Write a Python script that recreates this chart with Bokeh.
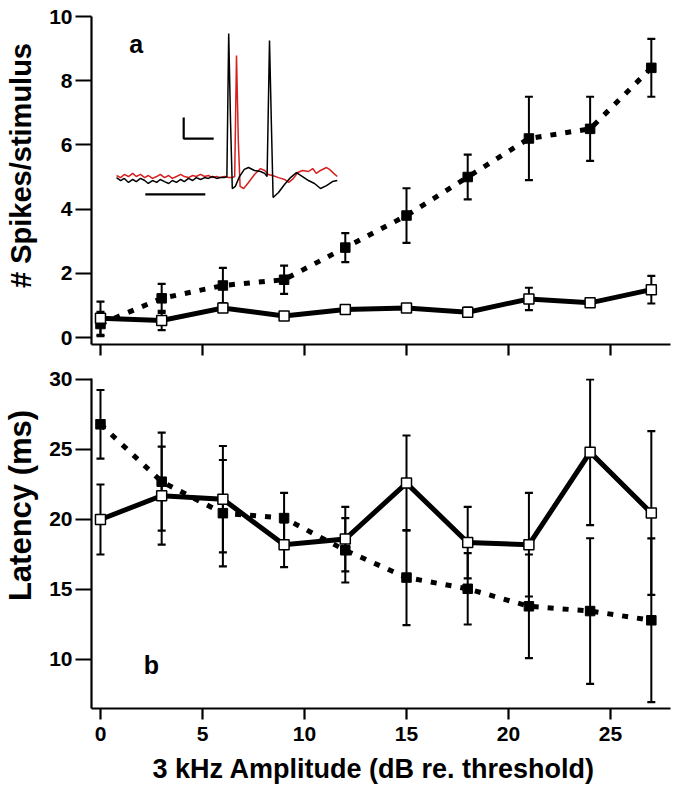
import math
from bokeh.plotting import figure
from bokeh.layouts import column, row
from bokeh.models import Range1d, FixedTicker
from bokeh.core.properties import value
from bokeh.embed import file_html
from bokeh.resources import INLINE

# ---------------- data ----------------
amplitude = [0, 3, 6, 9, 12, 15, 18, 21, 24, 27]

spikes_filled = [0.42, 1.22, 1.62, 1.80, 2.80, 3.80, 5.00, 6.20, 6.50, 8.40]
spikes_filled_err = [0.38, 0.45, 0.55, 0.44, 0.45, 0.85, 0.70, 1.30, 1.00, 0.90]
spikes_open = [0.60, 0.53, 0.92, 0.67, 0.87, 0.92, 0.79, 1.20, 1.08, 1.49]
spikes_open_err = [0.52, 0.30, 0.06, 0.07, 0.08, 0.07, 0.14, 0.35, 0.10, 0.43]

latency_filled = [26.8, 22.7, 20.45, 20.1, 17.8, 15.85, 15.05, 13.8, 13.46, 12.8]
latency_filled_err = [2.45, 3.5, 3.8, 1.8, 2.3, 3.4, 2.55, 3.7, 5.2, 5.85]
latency_open = [20.0, 21.7, 21.45, 18.2, 18.6, 22.6, 18.35, 18.2, 24.8, 20.46]
latency_open_err = [2.5, 3.5, 3.8, 1.6, 2.3, 3.4, 2.55, 3.7, 5.2, 5.85]

x_ticks = [0, 5, 10, 15, 20, 25]
spikes_ticks = [0, 2, 4, 6, 8, 10]
latency_ticks = [10, 15, 20, 25, 30]

# inset recordings (time in ms, voltage in scale-bar units)
trace_black_t = [0, 0.7, 1.3, 2.0, 2.7, 3.3, 4.0, 4.7, 5.3, 6.0, 6.7, 7.3, 8.0, 8.7,
                 9.3, 10.0, 10.7, 11.3, 12.0, 12.7, 13.3, 14.0, 14.7, 15.3, 16.0,
                 16.7, 17.3, 18.0, 18.4, 18.7, 19.0, 19.3, 19.8, 20.5, 21.3, 22.0,
                 23.0, 24.0, 24.7, 25.1, 25.5, 25.8, 26.1, 27.0, 28.0, 29.0, 30.0,
                 31.0, 32.0, 33.0, 34.0, 35.0, 36.0, 36.8]
trace_black_v = [-0.10, -0.24, -0.14, -0.33, -0.19, -0.29, -0.14, -0.24, -0.38, -0.24,
                 -0.33, -0.19, -0.29, -0.38, -0.24, -0.33, -0.19, -0.29, -0.14, -0.24,
                 -0.10, -0.19, -0.10, -0.14, -0.05, -0.14, -0.10, -0.10, -0.05, 6.76,
                 2.62, -0.62, -0.52, -0.05, 0.29, 0.38, 0.24, 0.19, 0.10, -0.05, 6.43,
                 2.62, -1.05, -0.81, -0.43, -0.10, 0.14, -0.05, -0.24, -0.38, -0.62,
                 -0.48, -0.29, -0.24]
trace_red_t = [0, 0.7, 1.3, 2.0, 2.7, 3.3, 4.0, 4.7, 5.3, 6.0, 6.7, 7.3, 8.0, 8.7,
               9.3, 10.0, 10.7, 11.3, 12.0, 12.7, 13.3, 14.0, 14.7, 15.3, 16.0, 16.7,
               17.3, 18.0, 18.7, 19.3, 19.7, 20.0, 20.3, 20.6, 21.2, 22.0, 23.0, 24.0,
               24.7, 25.3, 26.0, 27.0, 28.0, 28.7, 29.5, 30.2, 31.0, 32.0, 32.7, 33.3,
               34.0, 35.0, 35.5, 36.2, 36.8]
trace_red_v = [0.0, -0.10, 0.05, -0.05, 0.10, -0.05, 0.05, -0.10, 0.0, -0.14, -0.05,
               0.05, -0.10, 0.0, -0.14, -0.05, 0.05, -0.05, -0.10, 0.0, -0.05, 0.05,
               -0.05, 0.0, -0.10, -0.05, -0.10, -0.05, -0.10, -0.10, -0.05, 5.71, 1.67,
               -0.52, -0.62, -0.33, 0.05, 0.33, 0.24, 0.05, 0.0, -0.10, -0.19, -0.33,
               -0.14, 0.14, 0.24, 0.19, 0.33, 0.10, 0.24, 0.38, 0.29, 0.10, -0.05]
# scale bars: 1 unit x 5 ms, and a 10 ms bar
scalebar_t = [11.2, 11.2, 16.2]
scalebar_v = [2.76, 1.76, 1.76]
timebar_t = [4.8, 14.8]
timebar_v = [-0.9, -0.9]

y_title_top = "# Spikes/stimulus"
y_title_bottom = "Latency (ms)"
x_title = "3 kHz Amplitude (dB re. threshold)"

FONT = "Liberation Sans"
PAGE_W, PAGE_H = 678, 789
STRIP_W = 44                 # left strip holding the rotated titles
W = PAGE_W - STRIP_W         # width of the panels
LEFT = 47
RIGHT = 8
X_RANGE = (-0.44, 27.94)
P1_H = 360
P2_H = 392
STRIP_H = PAGE_H - P1_H - P2_H


def style(p, yticks, show_xlabels):
    p.outline_line_color = None
    p.xgrid.grid_line_color = None
    p.ygrid.grid_line_color = None
    for ax in (p.xaxis[0], p.yaxis[0]):
        ax.axis_line_width = 2.2
        ax.axis_line_color = "black"
        ax.major_tick_line_width = 2.2
        ax.major_tick_line_color = "black"
        ax.major_tick_in = 0
        ax.minor_tick_line_color = None
        ax.major_label_text_font = FONT
        ax.major_label_text_font_style = "bold"
        ax.major_label_text_font_size = "21px"
        ax.major_label_text_color = "black"
    p.xaxis.ticker = FixedTicker(ticks=x_ticks)
    p.yaxis.ticker = FixedTicker(ticks=yticks)
    p.yaxis.major_tick_out = 16
    p.yaxis.major_label_standoff = 3
    p.xaxis.major_tick_out = 11
    if show_xlabels:
        p.xaxis.major_label_standoff = 7
    else:
        p.xaxis.major_label_overrides = {t: "" for t in x_ticks}
        p.xaxis.major_label_text_font_size = "1px"
        p.xaxis.major_label_standoff = 0


def blank(width, height, xr, yr):
    f = figure(width=width, height=height, output_backend="svg", toolbar_location=None,
               x_range=Range1d(*xr), y_range=Range1d(*yr), x_axis_type=None,
               y_axis_type=None, min_border=0, min_border_left=0, min_border_right=0,
               min_border_top=0, min_border_bottom=0)
    f.outline_line_color = None
    f.xgrid.grid_line_color = None
    f.ygrid.grid_line_color = None
    return f


def draw_series(p, xs, ys, errs):
    lo = [y - e for y, e in zip(ys, errs)]
    hi = [y + e for y, e in zip(ys, errs)]
    p.segment(x0=xs, y0=lo, x1=xs, y1=hi, line_color="black", line_width=2)
    p.scatter(xs, lo, marker="dash", size=8, line_color="black", line_width=2.2)
    p.scatter(xs, hi, marker="dash", size=8, line_color="black", line_width=2.2)


def draw_lines(p, xs, yf, yo):
    p.line(xs, yf, line_color="black", line_width=5, line_dash="6 9", line_cap="butt")
    p.line(xs, yo, line_color="black", line_width=5, line_join="miter")
    p.scatter(xs, yf, marker="square", size=9.5, fill_color="black", line_color="black",
              line_width=1)
    p.scatter(xs, yo, marker="square", size=10, fill_color="white", line_color="black",
              line_width=1.5)


# ---------------- top panel ----------------
p1 = figure(width=W, height=P1_H, output_backend="svg", toolbar_location=None,
            x_range=Range1d(*X_RANGE), y_range=Range1d(-0.218, 10),
            min_border_left=LEFT, min_border_right=RIGHT, min_border_top=16,
            min_border_bottom=16)
style(p1, spikes_ticks, False)

p1.extra_x_ranges = {"ix": Range1d(-4.1667, 92.333)}
p1.extra_y_ranges = {"iy": Range1d(-8.0476, 7.571)}
p1.line(trace_red_t, trace_red_v, x_range_name="ix", y_range_name="iy",
        line_color="#d61f1f", line_width=1.5)
p1.line(trace_black_t, trace_black_v, x_range_name="ix", y_range_name="iy",
        line_color="black", line_width=1.5)
p1.line(scalebar_t, scalebar_v, x_range_name="ix", y_range_name="iy",
        line_color="black", line_width=2.2)
p1.line(timebar_t, timebar_v, x_range_name="ix", y_range_name="iy",
        line_color="black", line_width=2.2)

draw_series(p1, amplitude, spikes_filled, spikes_filled_err)
draw_series(p1, amplitude, spikes_open, spikes_open_err)
draw_lines(p1, amplitude, spikes_filled, spikes_open)
p1.text(x=[1.75], y=[9.13], text=["a"], text_font=value(FONT), text_font_style="bold",
        text_font_size="25px", text_align="center", text_baseline="middle",
        text_color="black")

# ---------------- bottom panel ----------------
p2 = figure(width=W, height=P2_H, output_backend="svg", toolbar_location=None,
            x_range=Range1d(*X_RANGE), y_range=Range1d(6.5, 30.07),
            min_border_left=LEFT, min_border_right=RIGHT, min_border_top=18,
            min_border_bottom=P2_H - 18 - 330)
style(p2, latency_ticks, True)

draw_series(p2, amplitude, latency_filled, latency_filled_err)
draw_series(p2, amplitude, latency_open, latency_open_err)
draw_lines(p2, amplitude, latency_filled, latency_open)
p2.text(x=[2.5], y=[9.6], text=["b"], text_font=value(FONT), text_font_style="bold",
        text_font_size="25px", text_align="center", text_baseline="middle",
        text_color="black")

# ---------------- title strips (page-pixel coordinates) ----------------
left_strip = blank(STRIP_W, PAGE_H, (0, STRIP_W), (PAGE_H, 0))
left_strip.text(x=[20], y=[165], text=[y_title_top], angle=math.pi / 2,
                text_font=value(FONT), text_font_style="bold", text_font_size="29px",
                text_align="center", text_baseline="alphabetic", text_color="black")
left_strip.text(x=[20], y=[505], text=[y_title_bottom], angle=math.pi / 2,
                text_font=value(FONT), text_font_style="bold", text_font_size="31px",
                text_align="center", text_baseline="alphabetic", text_color="black")

bottom_strip = blank(W, STRIP_H, (STRIP_W, PAGE_W), (PAGE_H, P1_H + P2_H))
bottom_strip.text(x=[353], y=[768], text=[x_title], text_font=value(FONT),
                  text_font_style="bold", text_font_size="27px", text_align="center",
                  text_baseline="alphabetic", text_color="black")

layout = row(left_strip, column(p1, p2, bottom_strip, spacing=0), spacing=0)
open("out.html", "w").write(file_html(layout, INLINE))
